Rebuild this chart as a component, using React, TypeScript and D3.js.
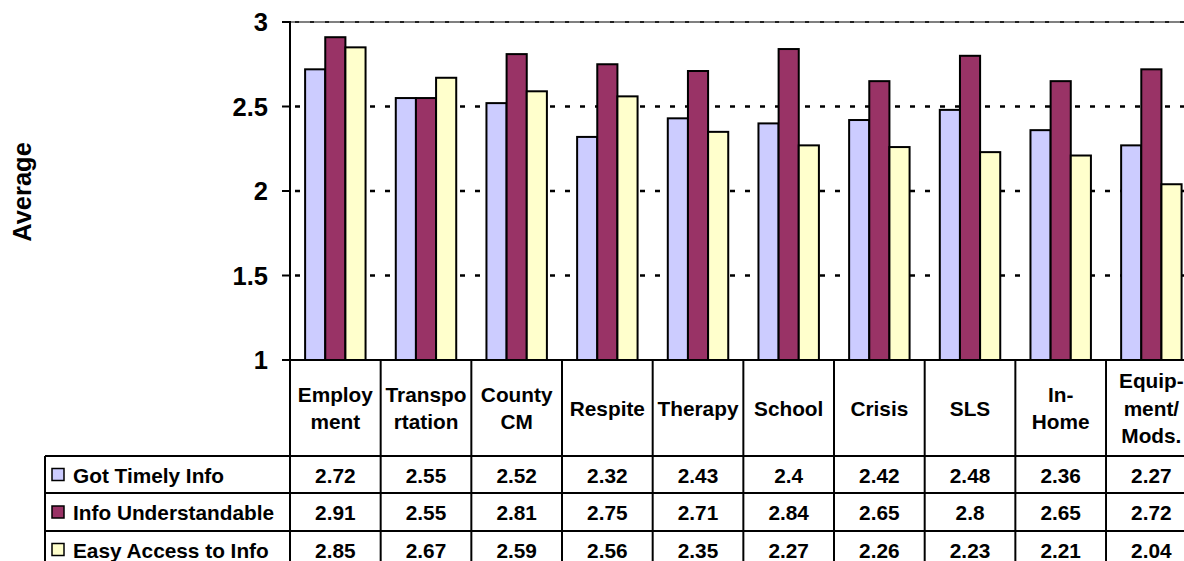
import React, { useEffect, useRef } from "react";
import * as d3 from "d3";

// Service areas (header labels split across lines)
const categories = [
  "Employment",
  "Transportation",
  "County CM",
  "Respite",
  "Therapy",
  "School",
  "Crisis",
  "SLS",
  "In-Home",
  "Equipment/Mods.",
];
const categoryLines: string[][] = [
  ["Employ", "ment"],
  ["Transpo", "rtation"],
  ["County", "CM"],
  ["Respite"],
  ["Therapy"],
  ["School"],
  ["Crisis"],
  ["SLS"],
  ["In-", "Home"],
  ["Equip-", "ment/", "Mods."],
];

const seriesNames = ["Got Timely Info", "Info Understandable", "Easy Access to Info"];
const seriesColors = ["#CCCCFF", "#993366", "#FFFFCC"];

const gotTimelyInfo = [2.72, 2.55, 2.52, 2.32, 2.43, 2.4, 2.42, 2.48, 2.36, 2.27];
const infoUnderstandable = [2.91, 2.55, 2.81, 2.75, 2.71, 2.84, 2.65, 2.8, 2.65, 2.72];
const easyAccessToInfo = [2.85, 2.67, 2.59, 2.56, 2.35, 2.27, 2.26, 2.23, 2.21, 2.04];

const yTicks = [1, 1.5, 2, 2.5, 3];
const yTickLabels = ["1", "1.5", "2", "2.5", "3"];

const W = 1184;
const H = 561;
const FONT = "'Liberation Sans', Arial, sans-serif";
const TABLE_FS = 20.8;

export default function App() {
  const ref = useRef<SVGSVGElement>(null);

  useEffect(() => {
    const svg = d3.select(ref.current);
    svg.selectAll("*").remove();

    const series = [gotTimelyInfo, infoUnderstandable, easyAccessToInfo];

    const left = 290;
    const bandW = 90.67;
    const right = left + bandW * categories.length;
    const top = 22;
    const bottom = 360;

    const x = d3.scaleBand<string>().domain(categories).range([left, right]).paddingInner(0).paddingOuter(0);
    const y = d3.scaleLinear().domain([1, 3]).range([bottom, top]);
    const clusterW = x.bandwidth() / 1.5;
    const xs = d3
      .scaleBand<number>()
      .domain([0, 1, 2])
      .range([(x.bandwidth() - clusterW) / 2, (x.bandwidth() + clusterW) / 2]);

    // plot area top border
    svg
      .append("line")
      .attr("x1", left)
      .attr("x2", W)
      .attr("y1", y(3))
      .attr("y2", y(3))
      .attr("stroke", "#808080")
      .attr("stroke-width", 2);

    // dotted major gridlines
    svg
      .append("g")
      .selectAll("line")
      .data(yTicks.filter((t) => t > 1))
      .join("line")
      .attr("x1", left + 2)
      .attr("x2", W)
      .attr("y1", (d) => y(d))
      .attr("y2", (d) => y(d))
      .attr("stroke", "#000")
      .attr("stroke-width", (d) => (d === 3 ? 1.5 : 2.5))
      .attr("stroke-dasharray", (d) => (d === 3 ? "4 11" : "5 10"))
      .attr("stroke-dashoffset", -3);

    // bars
    const gBars = svg.append("g");
    series.forEach((vals, si) => {
      gBars
        .append("g")
        .selectAll("rect")
        .data(vals)
        .join("rect")
        .attr("x", (_d, i) => (x(categories[i]) as number) + (xs(si) as number))
        .attr("width", xs.bandwidth())
        .attr("y", (d) => y(d))
        .attr("height", (d) => y(1) - y(d))
        .attr("fill", seriesColors[si])
        .attr("stroke", "#000")
        .attr("stroke-width", 2);
    });

    // y axis
    svg
      .append("line")
      .attr("x1", left)
      .attr("x2", left)
      .attr("y1", top - 1)
      .attr("y2", bottom)
      .attr("stroke", "#000")
      .attr("stroke-width", 2);
    svg
      .append("g")
      .selectAll("line")
      .data(yTicks)
      .join("line")
      .attr("x1", left - 8)
      .attr("x2", left)
      .attr("y1", (d) => y(d))
      .attr("y2", (d) => y(d))
      .attr("stroke", "#000")
      .attr("stroke-width", 2);
    svg
      .append("g")
      .selectAll("text")
      .data(yTicks)
      .join("text")
      .attr("x", 268)
      .attr("y", (d) => y(d) + 9)
      .attr("text-anchor", "end")
      .attr("font-family", FONT)
      .attr("font-weight", "bold")
      .attr("font-size", 25.5)
      .text((_d, i) => yTickLabels[i]);

    svg
      .append("text")
      .attr("transform", `translate(31,192) rotate(-90)`)
      .attr("text-anchor", "middle")
      .attr("font-family", FONT)
      .attr("font-weight", "bold")
      .attr("font-size", 25.5)
      .text("Average");

    // data table
    const rowTops = [456, 493, 531, H + 10];
    const table = svg.append("g");
    const hLine = (x1: number, x2: number, yy: number) =>
      table
        .append("line")
        .attr("x1", x1)
        .attr("x2", x2)
        .attr("y1", yy)
        .attr("y2", yy)
        .attr("stroke", "#000")
        .attr("stroke-width", 2);

    hLine(left - 8, W, bottom);
    hLine(45, W, rowTops[0]);
    hLine(45, W, rowTops[1]);
    hLine(45, W, rowTops[2]);

    // column boundaries
    table
      .append("g")
      .selectAll("line")
      .data(d3.range(categories.length + 1))
      .join("line")
      .attr("x1", (i) => left + i * x.bandwidth())
      .attr("x2", (i) => left + i * x.bandwidth())
      .attr("y1", bottom)
      .attr("y2", H)
      .attr("stroke", "#000")
      .attr("stroke-width", 2);
    table
      .append("line")
      .attr("x1", 45)
      .attr("x2", 45)
      .attr("y1", rowTops[0])
      .attr("y2", H)
      .attr("stroke", "#000")
      .attr("stroke-width", 2);

    // header labels
    const lineH = 27.5;
    categories.forEach((c, i) => {
      const lines = categoryLines[i];
      const cx = (x(c) as number) + x.bandwidth() / 2;
      const base = 415.5 - ((lines.length - 1) * lineH) / 2;
      table
        .append("text")
        .attr("text-anchor", "middle")
        .attr("font-family", FONT)
        .attr("font-weight", "bold")
        .attr("font-size", TABLE_FS)
        .selectAll("tspan")
        .data(lines)
        .join("tspan")
        .attr("x", cx)
        .attr("y", (_d, k) => base + k * lineH)
        .text((d) => d);
    });

    // legend keys and values
    series.forEach((vals, si) => {
      const rt = rowTops[si];
      const rb = si < 2 ? rowTops[si + 1] : 568;
      const cy = (rt + rb) / 2;
      table
        .append("rect")
        .attr("x", 52)
        .attr("y", cy - 6)
        .attr("width", 12)
        .attr("height", 12)
        .attr("fill", seriesColors[si])
        .attr("stroke", "#000")
        .attr("stroke-width", 1.5);
      table
        .append("text")
        .attr("x", 73)
        .attr("y", cy + 8)
        .attr("font-family", FONT)
        .attr("font-weight", "bold")
        .attr("font-size", TABLE_FS)
        .text(seriesNames[si]);
      table
        .append("g")
        .selectAll("text")
        .data(vals)
        .join("text")
        .attr("x", (_d, i) => (x(categories[i]) as number) + x.bandwidth() / 2)
        .attr("y", cy + 8)
        .attr("text-anchor", "middle")
        .attr("font-family", FONT)
        .attr("font-weight", "bold")
        .attr("font-size", TABLE_FS)
        .text((d) => String(d));
    });
  }, []);

  return (
    <svg
      ref={ref}
      width={W}
      height={H}
      style={{ position: "absolute", left: 0, top: 0, background: "#fff" }}
    />
  );
}
